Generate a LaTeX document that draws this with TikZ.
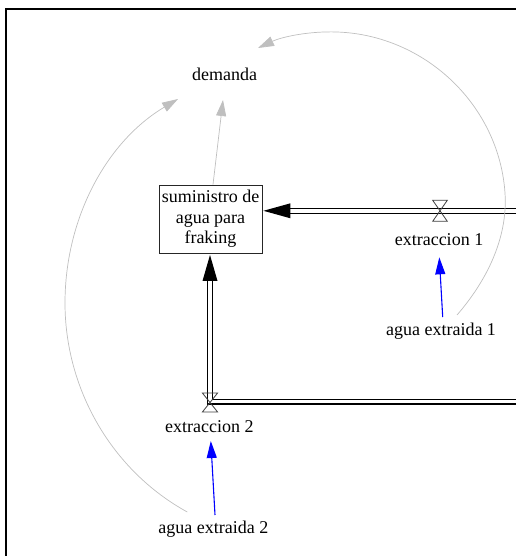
\documentclass[tikz,border=0pt]{standalone}
\usepackage{fontspec}
\setmainfont{Liberation Serif}
\usetikzlibrary{arrows.meta,calc}

\begin{document}
\begin{tikzpicture}[x=1pt,y=-1pt,
  lbl/.style={font=\fontsize{18}{20.5}\selectfont, inner sep=0pt, anchor=base},
  stock/.style={draw=black!85, line width=0.9pt, minimum width=103pt,
    minimum height=68pt, inner sep=0pt, align=center,
    font=\fontsize{18}{20.5}\selectfont},
  pipe/.style={draw=black, line width=1.3pt, double=white, double distance=3.4pt},
  pipehead/.style={fill=black},
  valve/.style={draw=black!75, line width=0.8pt},
  info/.style={draw=blue, line width=1.1pt, -{Triangle[length=17pt,width=10pt]}},
  link/.style={draw=black!25, line width=0.7pt, -{Triangle[length=16pt,width=10pt,fill=black!25]}},
]
\useasboundingbox (0,0) rectangle (516,556);

% frame
\draw[line width=2pt] (6.3,556) -- (6.3,9) -- (516,9);

% variables and stock
\node[lbl] (dem) at (224.5,81) {demanda};
\node[stock] (box) at (210.5,219) {suministro de\\agua para\\fraking};
\node[lbl] (ex1) at (439,245) {extraccion 1};
\node[lbl] (ae1) at (441,335) {agua extraida 1};
\node[lbl] (ex2) at (209.3,432) {extraccion 2};
\node[lbl] (ae2) at (213.3,533) {agua extraida 2};

% flow ends and valves
\coordinate (src1) at (516,210.8);
\coordinate (src2) at (516,401.7);
\coordinate (v1) at (440,210.8);
\coordinate (v2) at (210,402.5);

% inflow 1
\draw[pipe, shorten >=26pt] (src1) -- (box.east |- src1);
\fill[pipehead] ($(box.east |- src1)+(1,0)$) -- ++(27,-7.5) -- ++(0,15) -- cycle;

% inflow 2
\draw[pipe, shorten >=26pt] (src2) -- (v2 |- src2) -- (box.south -| v2);
\fill[pipehead] ($(box.south -| v2)+(0,1.5)$) -- ++(-7.5,26) -- ++(15,0) -- cycle;

% valves
\draw[valve] ($(v1)+(-7.3,-10.5)$) -- ++(14.6,0) -- ++(-14.6,21) -- ++(14.6,0) -- cycle;
\draw[valve] ($(v2)+(-7.6,-9.5)$) -- ++(15.2,0) -- ++(-15.2,19) -- ++(15.2,0) -- cycle;

% rate inputs
\draw[info] ([shift={(1.7,-18)}]ae1.base) -- ([shift={(0.3,12.3)}]ex1.base);
\draw[info] ([shift={(1.7,-18)}]ae2.base) -- ([shift={(1.5,9)}]ex2.base);

% links into demand
\draw[link] ([xshift=2.5]box.north) -- ([shift={(-1.5,19)}]dem.base);
\draw[link] ([shift={(16,-20)}]ae1.base)
  .. controls (486.5,281) and (508,238) .. (505,193)
  .. controls (499,105) and (425,35) .. (337,32)
  .. controls (310,31) and (282.5,36.6) .. ([shift={(33.5,-33)}]dem.base);
\draw[link] ([shift={(-26,-21)}]ae2.base)
  .. controls (111.7,470.5) and (65,389) .. (65,303)
  .. controls (65,219) and (105.8,142) .. ([shift={(-46.5,18)}]dem.base);

\end{tikzpicture}
\end{document}
